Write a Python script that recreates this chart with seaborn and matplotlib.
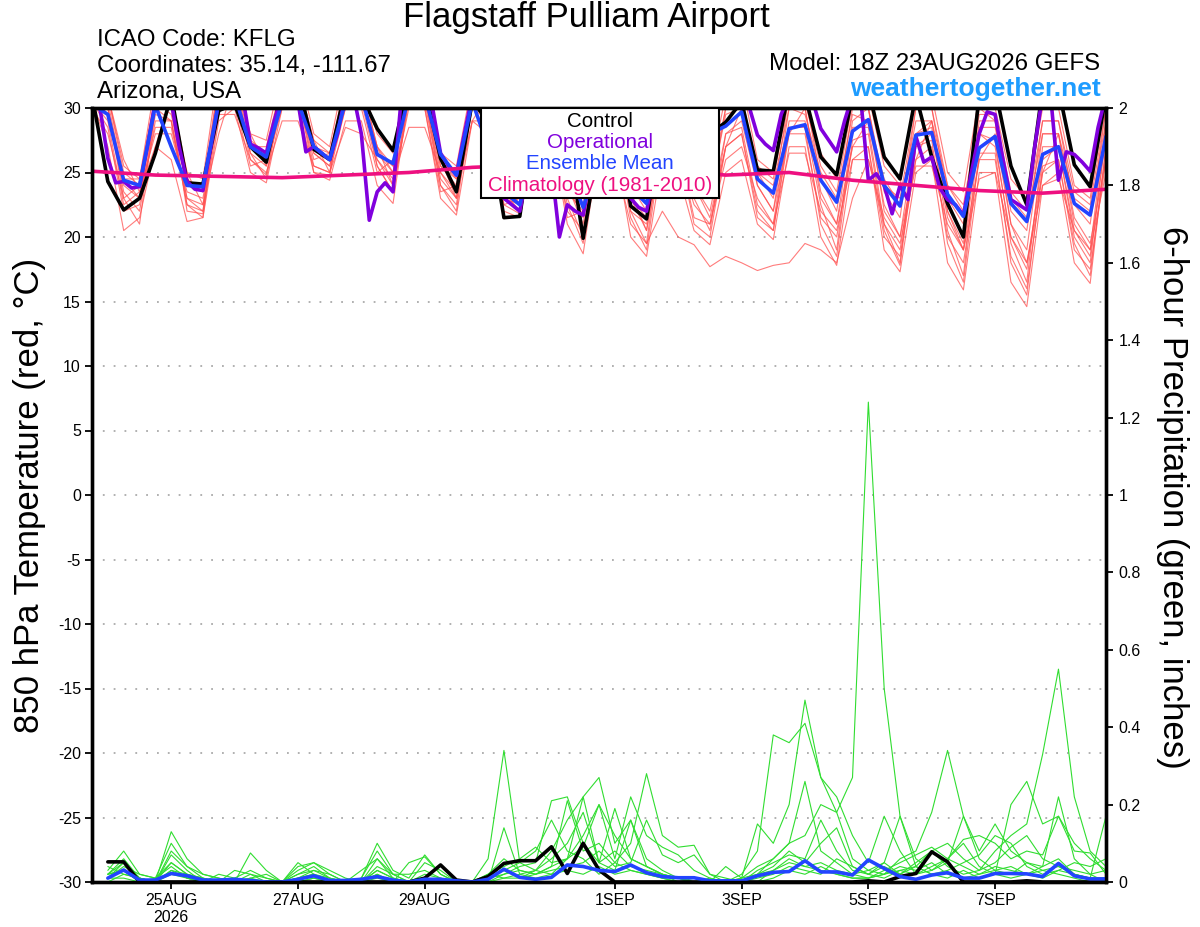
import matplotlib
matplotlib.use('Agg')
import matplotlib.pyplot as plt
from matplotlib.patches import Rectangle
import numpy as np
import pandas as pd
import seaborn as sns

# forecast hours from the 18Z 23AUG2026 GEFS run
hours_6h = np.arange(0, 385, 6)
hours_3h = np.arange(0, 385, 3)
hours_precip = np.arange(6, 385, 6)
hours_clim = np.arange(0, 385, 24)

tick_hours = [30, 78, 126, 198, 246, 294, 342]
tick_labels = ['25AUG\n2026', '27AUG', '29AUG', '1SEP', '3SEP', '5SEP', '7SEP']

# 850 hPa temperature (C), 6-hourly
control_t = [31,
             24.3, 22.1, 23.0, 26.5, 31, 24.2, 24.1, 29.8,
             30.3, 27.0, 25.8, 31.5, 32, 26.8, 26.0, 31.5,
             31, 28.4, 26.7, 32, 31.5, 26.1, 23.5, 30.5,
             29, 21.5, 21.6, 30, 30, 28, 19.9, 27,
             30, 22.4, 21.4, 29, 31, 30, 28, 28.9,
             30.5, 25.2, 25.1, 31.5, 31, 26.2, 24.8, 31,
             31.5, 26.2, 24.5, 31, 26.2, 22.6, 20.0, 31,
             31.5, 25.5, 22.5, 31.5, 31.5, 25.6, 23.9, 31]

mean_t = [30.3,
          29.5, 24.4, 24.0, 30.2, 27.0, 24.0, 23.9, 30.5,
          31, 27.0, 26.2, 30.5, 30.5, 27.0, 26.0, 30.5,
          31, 26.4, 25.7, 31, 31, 26.4, 24.8, 30.5,
          27, 23.5, 22.5, 28, 27, 25.5, 22.3, 26,
          28, 23.8, 22.6, 28, 29.5, 29, 28, 28.6,
          29.7, 24.5, 23.4, 28.4, 28.7, 24.4, 22.7, 28.2,
          29.1, 24.0, 22.4, 27.9, 28.1, 23.3, 21.6, 26.9,
          27.8, 22.6, 21.2, 26.4, 27.0, 22.6, 21.7, 27.8]

# operational run, 3-hourly
oper_t = [31, 30, 26.1, 24.2, 24.3, 23.8, 23.9, 27,
          30.5, 30.5, 30.5, 27, 24.3, 23.7, 23.6, 27,
          30.5, 31, 31, 31, 27.2, 26.9, 26.5, 29,
          31, 31, 30.5, 26.6, 27.0, 26.5, 26.0, 28,
          31, 31, 28, 21.3, 23.5, 24.2, 23.5, 30.5,
          31, 31, 31, 30, 26.5, 25.5, 24.8, 28,
          31, 31, 30, 26, 23, 22.5, 22.0, 25,
          30, 30, 25.5, 20.0, 22.5, 22.0, 21.7, 25,
          29, 31, 31, 28, 23.0, 22.3, 22.0, 25,
          28, 30, 31, 29, 27, 26, 28, 30,
          31, 31, 31, 30, 27.9, 27.2, 26.7, 29.5,
          31, 31, 31, 30.5, 28.4, 27.5, 26.6, 29,
          31, 31, 24.4, 24.9, 24.0, 21.8, 24.0, 22.9,
          27.8, 25.8, 26.2, 23.8, 22.9, 22.5, 21.7, 25,
          28.0, 29.7, 29.5, 26, 22.9, 22.5, 22.1, 27,
          31, 31, 24.4, 26.6, 26.4, 25.8, 25.1, 28.5,
          31]

# climatology 1981-2010, daily
clim_t = [25.1, 24.8, 24.7, 24.6, 24.8, 25.0, 25.4, 25.6, 25.5,
          25.2, 24.8, 25.0, 24.4, 24.0, 23.6, 23.4, 23.7]

# ensemble members (temperature)
members_t = [
    [31, 30, 23.5, 22, 29, 29, 22.5, 22, 31, 31, 27, 26, 32, 32, 26.5, 25.5, 31,
     31, 27, 25, 32, 31, 25, 23, 30, 30, 23, 22.5, 31, 30, 24, 21, 29,
     30, 23, 20.5, 29, 29, 24, 22, 28, 29, 24, 22, 30, 30, 23, 21, 29,
     30, 22, 20, 28, 29, 22, 19.5, 29, 29, 21, 19, 28, 28, 21, 19, 29],
    [32, 31, 25.5, 24.5, 32, 30, 25, 24.5, 33, 33, 28, 27.5, 33, 33, 28, 27, 33,
     32, 28, 26.5, 33, 32, 26.5, 25.5, 32, 31, 25, 24, 32, 32, 26, 24, 32,
     31, 25.5, 24, 31, 31, 26, 25, 31, 32, 26, 25, 32, 31, 26.5, 24.5, 31,
     31, 25.5, 24, 31, 31, 25, 23.5, 31, 30, 24.5, 23, 30, 30, 24, 23, 31],
    [30.5, 27, 20.5, 21.5, 27, 26, 21.2, 21.5, 29, 30, 25, 24.2, 30, 30, 25, 24.4, 29,
     29, 24, 22.6, 31, 30, 23, 21.7, 29, 28, 22, 21.5, 28, 28, 21, 18.7, 27,
     27, 20, 18.5, 26, 25, 20.5, 19.4, 25, 26, 21, 19.8, 27, 27, 20, 17.8, 26,
     27, 19, 17.3, 25, 26, 18, 15.9, 25, 25, 16.5, 14.6, 24, 25, 18, 16.4, 27],
    [31, 30, 24.5, 23, 30, 29, 23, 22.5, 31, 32, 26.5, 25.5, 31, 31, 25.5, 25, 32,
     31, 26, 24, 31, 31, 24.5, 23, 31, 30, 23, 22, 29, 28, 22, 20.5, 27,
     26, 21, 19.5, 22, 20, 19.4, 17.7, 18.5, 18, 17.4, 17.8, 18.0, 19.5, 19, 18, 23,
     26, 21, 19, 27, 28, 21.5, 19, 28, 27, 20, 17.5, 26, 27, 20.5, 18.5, 28],
    [30.5, 29, 22.5, 23.5, 28, 28, 23.5, 23, 30, 30.5, 25.5, 26, 31, 31, 26, 26.5, 30,
     30, 25, 26, 31, 30, 23.5, 24, 30, 29, 22.5, 23, 30, 29, 21.5, 22, 28,
     29, 22, 21, 27, 27, 21.5, 21, 27, 28, 22, 20.5, 28, 28, 21.5, 20, 27,
     27, 20, 18.5, 26, 27, 20, 18, 26, 26, 18.5, 16, 25, 26, 19, 17.5, 26],
    [31, 29.5, 24, 23, 28.5, 28.5, 23, 22, 29.5, 29.5, 26, 25, 29, 29, 25.5, 25, 28.5,
     28, 26, 24.5, 28.5, 28.5, 25, 23.5, 29, 29, 24, 23, 28, 28.5, 23.5, 22, 28,
     28, 23, 21.5, 27, 26.5, 22.5, 21, 26, 27, 23, 21, 26.5, 26.5, 22, 20.5, 26,
     26, 21.5, 19.5, 25.5, 25.5, 21, 19, 24.5, 25, 20, 18, 24, 24.5, 20.5, 19, 25],
    [31.5, 31, 25, 24, 31, 31, 24.5, 23.5, 32, 32, 27.5, 26.5, 32, 32, 27, 26, 32,
     32, 27, 25.5, 32, 32, 26, 24.5, 31, 31, 24, 23, 31, 31, 25, 22.5, 31,
     31, 24, 22, 30, 30, 24.5, 23, 30, 31, 25, 23, 31, 31, 24.5, 22, 30,
     30, 23.5, 21.5, 30, 30, 23, 21, 30, 29, 22, 20.5, 29, 29, 22.5, 21, 30],
    [30.5, 28.5, 22, 22.5, 29.5, 29, 22.5, 21.5, 30.5, 31, 26.5, 24.5, 31, 30.5, 26.5, 25.5, 30,
     30.5, 25.5, 23.5, 30.5, 30.5, 24, 22.5, 30.5, 29.5, 23.5, 22, 30, 30, 23, 20, 29.5,
     29.5, 22, 19.5, 28.5, 28, 23, 20.5, 28, 28.5, 22.5, 21, 29, 29, 22.5, 19, 28.5,
     28.5, 21, 18, 28, 28.5, 20.5, 17, 28, 27.5, 19.5, 16.5, 27, 27, 20, 18, 28],
    [31, 31, 26, 23.5, 27, 31, 25, 22.5, 28, 32, 28, 25.5, 30, 32, 27.5, 25, 30,
     32, 27, 24, 30, 31, 26, 23, 29, 31, 24.5, 22.5, 29, 31, 24, 21.5, 28,
     30, 23.5, 20.5, 27, 29, 24, 21.5, 27, 30, 24, 22, 28, 30, 23.5, 21, 27,
     29, 22.5, 20, 26, 29, 22, 19, 26, 28, 21, 18, 25, 28, 21.5, 19.5, 26],
    [30, 28, 23, 24, 30.5, 29.5, 24, 23.5, 31.5, 31, 27, 26.5, 31.5, 31.5, 27, 26.5, 31.5,
     31, 26.5, 25.5, 31.5, 31, 25.5, 24.5, 31.5, 30.5, 24.5, 23.5, 30.5, 30.5, 24.5, 23, 30.5,
     30, 24, 22.5, 29.5, 29.5, 25, 23.5, 29.5, 30, 25, 24, 30, 29.5, 25, 23, 29.5,
     29, 24.5, 22.5, 29, 29, 24, 22, 28.5, 28.5, 23, 21.5, 28, 28, 23, 22, 29],
    [31, 30, 23, 21, 30, 30, 22, 21.8, 31, 31.5, 26, 24.8, 31, 31, 25, 24.8, 31.5,
     31.5, 25.5, 23.5, 31, 31, 24, 22, 31, 30, 22.5, 21.8, 30, 29, 22.5, 19.5, 28.5,
     28, 21.5, 19, 27.5, 27, 21, 20, 27, 28, 21.5, 20.5, 28.5, 28.5, 21, 18.5, 27.5,
     28, 20.5, 17.8, 27, 27.5, 19.5, 16.5, 26.5, 26.5, 18, 15.5, 25.5, 26, 19.5, 17, 27],
    [31, 30.5, 24.5, 24.5, 31, 30.5, 24, 24, 32, 32, 27, 27, 32, 32, 27.5, 26.5, 32,
     31.5, 26.5, 25, 32, 31.5, 25.5, 24, 31.5, 30.5, 24, 23.5, 31, 31, 24.5, 23, 31,
     30.5, 24.5, 23, 30.5, 30, 25.5, 24, 30, 30.5, 25.5, 24.5, 31, 30.5, 25.5, 23.5, 30.5,
     30, 24, 23, 30, 30, 24, 22.5, 29.5, 29.5, 23.5, 22, 29, 29, 23.5, 22.5, 30],
]

# 6-hour precipitation (inches)
control_p = [0.052, 0.052, 0, 0, 0, 0, 0, 0,
             0, 0, 0, 0, 0, 0, 0, 0,
             0, 0, 0, 0, 0.01, 0.044, 0.005, 0,
             0.014, 0.048, 0.055, 0.055, 0.091, 0.022, 0.1, 0.031,
             0, 0, 0, 0, 0, 0, 0, 0,
             0, 0, 0, 0, 0, 0, 0, 0,
             0.003, 0, 0.014, 0.022, 0.078, 0.052, 0, 0,
             0, 0, 0.003, 0, 0, 0, 0, 0]

mean_p = [0.01, 0.031, 0.005, 0.005, 0.022, 0.016, 0.005, 0.005,
          0.007, 0.004, 0, 0, 0.007, 0.016, 0.004, 0.004,
          0.007, 0.014, 0.005, 0, 0.007, 0.007, 0.003, 0,
          0.007, 0.033, 0.012, 0.007, 0.012, 0.044, 0.04, 0.03,
          0.027, 0.044, 0.024, 0.014, 0.011, 0.011, 0.003, 0.003,
          0.003, 0.016, 0.025, 0.027, 0.055, 0.026, 0.026, 0.018,
          0.057, 0.035, 0.014, 0.007, 0.018, 0.024, 0.01, 0.01,
          0.022, 0.022, 0.021, 0.014, 0.048, 0.016, 0.008, 0.008]

members_p = [
    [0.02, 0.03, 0, 0, 0.05, 0.02, 0, 0,
     0, 0, 0, 0, 0, 0.01, 0, 0,
     0, 0.02, 0, 0, 0.01, 0, 0, 0,
     0.02, 0.06, 0.03, 0.02, 0.04, 0.21, 0.08, 0.1,
     0.05, 0.03, 0.02, 0.01, 0, 0, 0, 0,
     0, 0.02, 0.06, 0.1, 0.12, 0.2, 0.18, 0.27,
     1.24, 0.5, 0.17, 0.04, 0.02, 0.01, 0.03, 0.01,
     0.02, 0.01, 0.02, 0.03, 0.02, 0.01, 0, 0],
    [0.01, 0.05, 0.01, 0, 0.13, 0.06, 0.02, 0.01,
     0, 0, 0, 0, 0.02, 0.04, 0.01, 0,
     0, 0.06, 0.01, 0, 0, 0, 0, 0,
     0.06, 0.34, 0.05, 0.03, 0.02, 0.06, 0.22, 0.05,
     0.19, 0.06, 0.04, 0.02, 0.01, 0, 0, 0,
     0, 0, 0.03, 0.06, 0.04, 0.05, 0.03, 0.02,
     0.03, 0.05, 0.02, 0.04, 0.08, 0.1, 0.06, 0.03,
     0.08, 0.12, 0.15, 0.33, 0.55, 0.22, 0.08, 0.04],
    [0.03, 0.08, 0.02, 0.01, 0.1, 0.04, 0.01, 0,
     0, 0.02, 0.01, 0, 0.03, 0.05, 0.02, 0,
     0.01, 0.1, 0.03, 0.01, 0.07, 0.02, 0, 0,
     0, 0.14, 0.02, 0.03, 0.08, 0.16, 0.22, 0.27,
     0.1, 0.16, 0.06, 0.03, 0.01, 0, 0, 0.04,
     0.01, 0.15, 0.1, 0.2, 0.47, 0.27, 0.18, 0.06,
     0.03, 0.02, 0.06, 0.08, 0.18, 0.34, 0.17, 0.06,
     0.03, 0.02, 0.05, 0.03, 0.04, 0.02, 0.01, 0.17],
    [0.02, 0.06, 0.01, 0, 0.07, 0.03, 0, 0,
     0, 0.075, 0.03, 0, 0.04, 0.05, 0.03, 0.01,
     0, 0.04, 0.02, 0, 0.02, 0.01, 0, 0,
     0.02, 0.04, 0.06, 0.09, 0.05, 0.06, 0.12, 0.2,
     0.06, 0.22, 0.12, 0.09, 0.07, 0.03, 0.01, 0,
     0.02, 0.08, 0.38, 0.36, 0.41, 0.27, 0.22, 0.12,
     0.05, 0.17, 0.08, 0.02, 0.04, 0.06, 0.1, 0.04,
     0.02, 0.2, 0.26, 0.15, 0.17, 0.1, 0.06, 0.03],
    [0.01, 0.04, 0.02, 0.01, 0.05, 0.02, 0.01, 0,
     0.03, 0.02, 0, 0, 0.01, 0.02, 0, 0,
     0.03, 0.06, 0.02, 0, 0.05, 0.03, 0, 0,
     0.01, 0.03, 0.05, 0.08, 0.16, 0.08, 0.06, 0.02,
     0.05, 0.1, 0.28, 0.12, 0.09, 0.095, 0.02, 0,
     0, 0.02, 0.04, 0.08, 0.05, 0.1, 0.14, 0.04,
     0.02, 0.05, 0.17, 0.06, 0.03, 0.05, 0.17, 0.08,
     0.15, 0.08, 0.05, 0.04, 0.22, 0.06, 0.02, 0],
    [0.02, 0.03, 0, 0.01, 0.04, 0.01, 0, 0,
     0, 0.01, 0.02, 0, 0.05, 0.02, 0.01, 0,
     0, 0.02, 0, 0.05, 0.065, 0.02, 0, 0,
     0.01, 0.02, 0.04, 0.05, 0.21, 0.22, 0.1, 0.05,
     0.03, 0.16, 0.04, 0.02, 0, 0.01, 0, 0,
     0.01, 0.04, 0.06, 0.1, 0.26, 0.08, 0.05, 0.02,
     0.01, 0.03, 0.05, 0.07, 0.09, 0.06, 0.11, 0.12,
     0.1, 0.06, 0.08, 0.07, 0.17, 0.08, 0.075, 0.02],
    [0, 0.02, 0.01, 0, 0.03, 0.01, 0, 0.02,
     0.01, 0, 0, 0, 0.02, 0.03, 0.01, 0,
     0, 0.03, 0.01, 0, 0.01, 0, 0, 0,
     0, 0.02, 0.03, 0.02, 0.03, 0.04, 0.05, 0.08,
     0.04, 0.05, 0.16, 0.07, 0.05, 0.07, 0.02, 0.01,
     0, 0.01, 0.02, 0.04, 0.03, 0.02, 0.06, 0.04,
     0.02, 0.01, 0.03, 0.04, 0.02, 0.03, 0.05, 0.07,
     0.12, 0.1, 0.04, 0.02, 0.03, 0.05, 0.04, 0.06],
    [0.01, 0.01, 0, 0, 0.02, 0.01, 0, 0,
     0, 0, 0, 0, 0, 0.01, 0, 0,
     0, 0.01, 0, 0, 0, 0, 0, 0,
     0, 0.01, 0.02, 0.01, 0.02, 0.03, 0.02, 0.04,
     0.02, 0.03, 0.02, 0.01, 0, 0, 0, 0,
     0, 0, 0.01, 0.03, 0.02, 0.04, 0.02, 0.01,
     0.01, 0.02, 0.04, 0.03, 0.05, 0.02, 0.01, 0.02,
     0.03, 0.04, 0.02, 0.01, 0.03, 0.02, 0.01, 0.01],
    [0.04, 0.02, 0.01, 0, 0.03, 0.02, 0.01, 0,
     0.01, 0.03, 0.01, 0, 0.01, 0.03, 0.02, 0,
     0.01, 0.08, 0.02, 0.02, 0.03, 0.01, 0, 0,
     0.02, 0.01, 0.01, 0.03, 0.06, 0.1, 0.18, 0.05,
     0.08, 0.04, 0.03, 0.02, 0.01, 0, 0.01, 0,
     0, 0.03, 0.05, 0.07, 0.06, 0.16, 0.08, 0.03,
     0.02, 0.04, 0.02, 0.05, 0.08, 0.04, 0.02, 0.03,
     0.05, 0.09, 0.12, 0.06, 0.04, 0.03, 0.02, 0.03],
    [0.02, 0.05, 0.01, 0, 0.08, 0.04, 0.02, 0.01,
     0, 0.01, 0, 0, 0.01, 0.02, 0, 0,
     0, 0.03, 0.01, 0, 0.01, 0, 0, 0,
     0.01, 0.03, 0.01, 0.02, 0.04, 0.06, 0.09, 0.2,
     0.12, 0.06, 0.04, 0.02, 0.01, 0.01, 0, 0,
     0.01, 0.02, 0.03, 0.05, 0.04, 0.03, 0.02, 0.01,
     0.01, 0.02, 0.03, 0.02, 0.03, 0.06, 0.04, 0.02,
     0.04, 0.03, 0.02, 0.04, 0.06, 0.02, 0.01, 0.01],
]

RED = '#ff5050'
GREEN = '#30dd30'
BLUE = '#2244ff'
PURPLE = '#8000dd'
PINK = '#ee1080'


def make_long(members, hours, name):
    rows = []
    for n, m in enumerate(members):
        for h, v in zip(hours, m):
            rows.append((n, h, v))
    return pd.DataFrame(rows, columns=['member', 'hour', name])


def main():
    sns.set_style('white')
    plt.rcParams['font.family'] = ['Liberation Sans', 'DejaVu Sans']
    plt.rcParams['axes.unicode_minus'] = False
    plt.rcParams['text.color'] = 'black'
    plt.rcParams['xtick.color'] = 'black'
    plt.rcParams['ytick.color'] = 'black'
    plt.rcParams['axes.labelcolor'] = 'black'

    fig = plt.figure(figsize=(12, 9.27), dpi=100)
    ax = fig.add_axes([92 / 1200, 1 - 882 / 927, 1014 / 1200, 774 / 927])
    ax2 = ax.twinx()

    df_t = make_long(members_t, hours_6h, 'temp')
    sns.lineplot(data=df_t, x='hour', y='temp', units='member', estimator=None,
                 color=RED, lw=0.8, alpha=0.75, ax=ax, legend=False)
    sns.lineplot(x=hours_6h, y=control_t, color='black', lw=2.6, ax=ax)
    sns.lineplot(x=hours_3h, y=oper_t, color=PURPLE, lw=2.6, ax=ax)
    sns.lineplot(x=hours_6h, y=mean_t, color=BLUE, lw=2.6, ax=ax)
    sns.lineplot(x=hours_clim, y=clim_t, color=PINK, lw=2.6, ax=ax)

    df_p = make_long(members_p, hours_precip, 'precip')
    sns.lineplot(data=df_p, x='hour', y='precip', units='member', estimator=None,
                 color=GREEN, lw=0.8, ax=ax2, legend=False)
    sns.lineplot(x=hours_precip, y=control_p, color='black', lw=2.6, ax=ax2)
    sns.lineplot(x=hours_precip, y=mean_p, color=BLUE, lw=2.6, ax=ax2)

    ax.set_xlim(0, 384)
    ax.set_ylim(-30, 30)
    ax.set_yticks(range(-30, 31, 5))
    ax.set_xticks(tick_hours)
    ax.set_xticklabels(tick_labels, linespacing=1.15)
    ax.set_xlabel('')
    ax.set_ylabel('')
    ax.grid(axis='y', linestyle=(0, (1, 5)), color='#aaaaaa', lw=1.3)
    ax.grid(axis='x', visible=False)

    ax2.set_ylim(0, 2)
    pticks = np.round(np.arange(0, 2.01, 0.2), 1)
    ax2.set_yticks(pticks)
    ax2.set_yticklabels([f'{v:g}' for v in pticks])
    ax2.set_ylabel('')
    ax2.grid(False)

    for a in (ax, ax2):
        for s in a.spines.values():
            s.set_linewidth(2.4)
            s.set_color('black')
    ax.tick_params(axis='both', labelsize=11.5, direction='out', length=5, width=1.3,
                   color='black', labelcolor='black', pad=3, left=True, bottom=True)
    ax2.tick_params(axis='y', labelsize=11.5, direction='out', length=5, width=1.3,
                    color='black', labelcolor='black', pad=4, right=True)

    # legend box
    ax2.add_patch(Rectangle((0.3836, 0.8837), 0.2347, 0.1163, transform=ax2.transAxes,
                            facecolor='white', edgecolor='black', lw=1.5, zorder=20))
    leg_items = [('Control', 'black'), ('Operational', PURPLE),
                 ('Ensemble Mean', BLUE), ('Climatology (1981-2010)', PINK)]
    for k, (txt, col) in enumerate(leg_items):
        ax2.text(0.501, 0.9832 - k * 0.0276, txt, color=col, fontsize=14.8,
                 ha='center', va='center', transform=ax2.transAxes, zorder=21)

    # axis titles
    fig.text(30 / 1200, 1 - 495 / 927, '850 hPa Temperature (red, °C)', rotation=90,
             ha='center', va='center', fontsize=25)
    fig.text(1172 / 1200, 1 - 497 / 927, '6-hour Precipitation (green, inches)',
             rotation=270, ha='center', va='center', fontsize=25)

    # header
    fig.text(586 / 1200, 1 - 18 / 927, 'Flagstaff Pulliam Airport', ha='center',
             va='center', fontsize=25)
    fig.text(97 / 1200, 1 - 40 / 927, 'ICAO Code: KFLG', ha='left', va='center', fontsize=17.3)
    fig.text(97 / 1200, 1 - 66 / 927, 'Coordinates: 35.14, -111.67', ha='left',
             va='center', fontsize=17.3)
    fig.text(97 / 1200, 1 - 92 / 927, 'Arizona, USA', ha='left', va='center', fontsize=17.3)
    fig.text(1100 / 1200, 1 - 64 / 927, 'Model: 18Z 23AUG2026 GEFS', ha='right',
             va='center', fontsize=17.3)
    fig.text(1101 / 1200, 1 - 89 / 927, 'weathertogether.net', ha='right', va='center',
             fontsize=19, fontweight='bold', color='#1e9cff')

    fig.savefig('out.png', dpi=100)


if __name__ == "__main__":
    main()
